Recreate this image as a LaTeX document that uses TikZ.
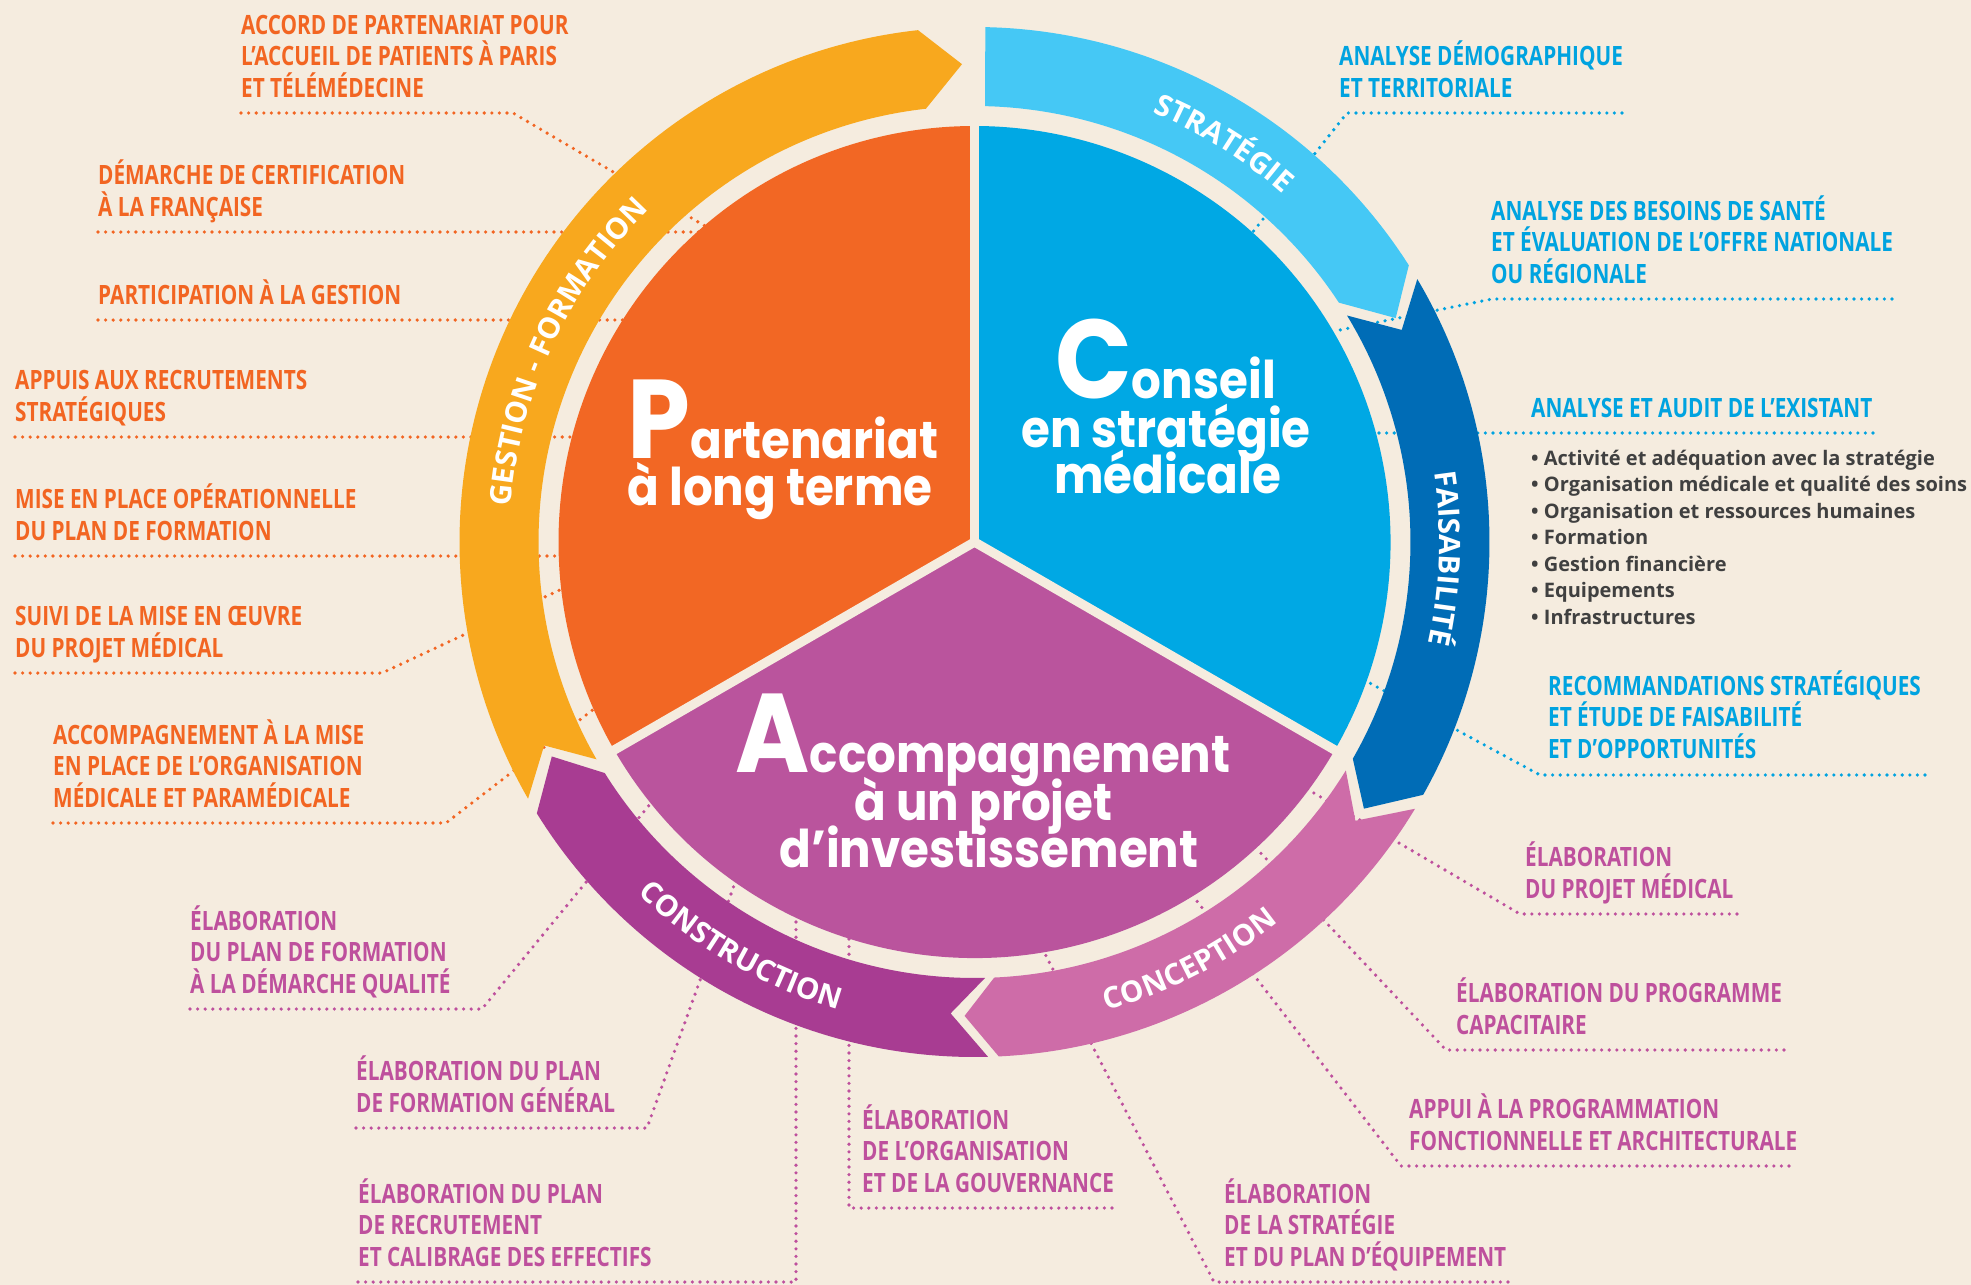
\documentclass[tikz,border=0pt]{standalone}
\usepackage{fontspec}
\setmainfont{Open Sans}
\newfontfamily\lblfont{Open Sans}[FakeStretch=0.78]
\newfontfamily\ringfam{Open Sans}
\newfontfamily\titlefam{Poppins}[FakeStretch=0.9]
\usetikzlibrary{decorations.text}
\definecolor{bgc}{HTML}{F5ECDF}
\definecolor{secO}{HTML}{F26724}
\definecolor{secB}{HTML}{00A8E4}
\definecolor{secP}{HTML}{BA549D}
\definecolor{ringO}{HTML}{F8A81E}
\definecolor{ringLB}{HTML}{45C8F5}
\definecolor{ringDB}{HTML}{006CB6}
\definecolor{ringPk}{HTML}{CE6CA8}
\definecolor{ringPu}{HTML}{A83C92}
\definecolor{txtO}{HTML}{F26522}
\definecolor{txtB}{HTML}{00A3E0}
\definecolor{txtP}{HTML}{BE509D}
\definecolor{txtG}{HTML}{404040}
\newcommand\bigini[1]{{\fontsize{112}{112}\selectfont #1}}
\tikzset{
  lbl/.style={anchor=south west, inner sep=0pt, align=left,
    font=\lblfont\bfseries\fontsize{26.6}{31.6}\selectfont, execute at end node=\strut},
  lblO/.style={lbl, text=txtO},
  lblB/.style={lbl, text=txtB},
  lblP/.style={lbl, text=txtP},
  lead/.style={line width=3.6pt, line cap=round, dash pattern=on 0pt off 7.6pt},
  leadO/.style={lead, draw=txtO},
  leadB/.style={lead, draw=txtB},
  leadP/.style={lead, draw=txtP},
  ttl/.style={anchor=base, inner sep=0pt, text=white,
    font=\titlefam\bfseries\fontsize{52}{52}\selectfont},
  ringtext/.style={decorate, decoration={text along path, text align=center,
    text color=white, text={|\ringfam\bfseries\fontsize{29.5}{30}\selectfont|#1}}},
  sepline/.style={draw=bgc, line width=9.3pt}
}
\begin{document}
\begin{tikzpicture}[x=1pt,y=-1pt]
\useasboundingbox (0,0) rectangle (1971,1285);
\fill[bgc] (0,0) rectangle (1971,1285);

% ---------- leader coordinates ----------
\coordinate (uL1) at (241,113);  \coordinate (kL1) at (513,113);  \coordinate (eL1) at (705,226);
\coordinate (uL2) at (98,232);   \coordinate (eL2) at (700,232);
\coordinate (uL3) at (98,320);   \coordinate (eL3) at (625,320);
\coordinate (uL4) at (15,437);   \coordinate (eL4) at (574,437);
\coordinate (uL5) at (15,556);   \coordinate (eL5) at (561,556);
\coordinate (uL6) at (15,673);   \coordinate (kL6) at (382,673);  \coordinate (eL6) at (564,588);
\coordinate (uL7) at (53,823);   \coordinate (kL7) at (446,823);  \coordinate (eL7) at (599,705);

\coordinate (uR1) at (1622,113); \coordinate (kR1) at (1347,113); \coordinate (eR1) at (1252,233);
\coordinate (uR2) at (1892,299); \coordinate (kR2) at (1492,299); \coordinate (eR2) at (1335,331);
\coordinate (uR3) at (1873,433); \coordinate (eR3) at (1374,433);
\coordinate (uR4) at (1925,775); \coordinate (kR4) at (1540,775); \coordinate (eR4) at (1366,681);

\coordinate (uB1) at (1737,914);  \coordinate (kB1) at (1520,914);  \coordinate (eB1) at (1307,789);
\coordinate (uB2) at (1784,1050); \coordinate (kB2) at (1446,1050); \coordinate (eB2) at (1256,848);
\coordinate (uB3) at (1789,1166); \coordinate (kB3) at (1401,1166); \coordinate (eB3) at (1193,896);
\coordinate (uB4) at (1508,1282); \coordinate (kB4) at (1214,1282); \coordinate (eB4) at (1043,950);
\coordinate (uB5) at (1112,1208); \coordinate (kB5) at (849,1208);  \coordinate (eB5) at (849,937);
\coordinate (uB6) at (358,1282);  \coordinate (kB6) at (796,1282);  \coordinate (eB6) at (796,917);
\coordinate (uB7) at (356,1128);  \coordinate (kB7) at (647,1128);  \coordinate (eB7) at (736,880);
\coordinate (uB8) at (190,1009);  \coordinate (kB8) at (482,1009);  \coordinate (eB8) at (651,803);

\draw[leadO] (uL1) -- (kL1) -- (eL1);
\draw[leadO] (uL2) -- (eL2);
\draw[leadO] (uL3) -- (eL3);
\draw[leadO] (uL4) -- (eL4);
\draw[leadO] (uL5) -- (eL5);
\draw[leadO] (uL6) -- (kL6) -- (eL6);
\draw[leadO] (uL7) -- (kL7) -- (eL7);
\draw[leadB] (uR1) -- (kR1) -- (eR1);
\draw[leadB] (uR2) -- (kR2) -- (eR2);
\draw[leadB] (uR3) -- (eR3);
\draw[leadB] (uR4) -- (kR4) -- (eR4);
\draw[leadP] (uB1) -- (kB1) -- (eB1);
\draw[leadP] (uB2) -- (kB2) -- (eB2);
\draw[leadP] (uB3) -- (kB3) -- (eB3);
\draw[leadP] (uB4) -- (kB4) -- (eB4);
\draw[leadP] (uB5) -- (kB5) -- (eB5);
\draw[leadP] (uB6) -- (kB6) -- (eB6);
\draw[leadP] (uB7) -- (kB7) -- (eB7);
\draw[leadP] (uB8) -- (kB8) -- (eB8);

% ---------- wheel ----------
\begin{scope}[shift={(974.5,542)}, y=1pt]
  % ring segments
  \fill[ringO] (209.9:515) arc[start angle=209.9, end angle=96.3, radius=515]
     -- (91.5:478) -- (96.4:436) arc[start angle=96.4, end angle=209.9, radius=436]
     -- (205.3:476) -- cycle;
  \fill[ringLB] (88.8:515) arc[start angle=88.8, end angle=32.5, radius=515]
     -- (28:477) -- (33.3:436) arc[start angle=33.3, end angle=88.6, radius=436] -- cycle;
  \fill[ringDB] (30.7:515) arc[start angle=30.7, end angle=-29.4, radius=515]
     -- (-34.4:472) -- (-29.8:436) arc[start angle=-29.8, end angle=31.3, radius=436]
     -- (26.4:477) -- cycle;
  \fill[ringPk] (-31.2:515) arc[start angle=-31.2, end angle=-87.3, radius=515]
     -- (-91.2:474) -- (-87.4:436) arc[start angle=-87.4, end angle=-31.6, radius=436]
     -- (-36.2:472) -- cycle;
  \fill[ringPu] (-88.5:515) arc[start angle=-88.5, end angle=-148.2, radius=515]
     -- (-153.1:474) -- (-148.0:436) arc[start angle=-148.0, end angle=-88.6, radius=436]
     -- (-92.9:472) -- cycle;
  % disc sectors
  \fill[secO] (0,0) -- (90:416) arc[start angle=90, end angle=210, radius=416] -- cycle;
  \fill[secB] (0,0) -- (-30:416) arc[start angle=-30, end angle=90, radius=416] -- cycle;
  \fill[secP] (0,0) -- (210:416) arc[start angle=210, end angle=330, radius=416] -- cycle;
  \draw[sepline] (0,0) -- (90:420);
  \draw[sepline] (0,0) -- (210:420);
  \draw[sepline] (0,0) -- (-30:420);
  % ring texts
  \path[ringtext={GESTION - FORMATION}] (185:465) arc[start angle=185, end angle=125, radius=465];
  \path[ringtext={STRATÉGIE}] (78:465) arc[start angle=78, end angle=38, radius=465];
  \path[ringtext={FAISABILITÉ}] (18:465) arc[start angle=18, end angle=-22, radius=465];
  \path[ringtext={CONCEPTION}] (-82.8:487) arc[start angle=-82.8, end angle=-42.8, radius=487];
  \path[ringtext={CONSTRUCTION}] (220:487) arc[start angle=220, end angle=260, radius=487];
\end{scope}

% ---------- titles ----------
\node[ttl] (tP1) at (783,458) {\bigini{P}artenariat};
\node[ttl] (tP2) at (780,505) {à long terme};
\node[ttl] (tC1) at (1165.5,398) {\bigini{C}onseil};
\node[ttl] (tC2) at (1166,447) {en stratégie};
\node[ttl] (tC3) at (1167.5,493) {médicale};
\node[ttl] (tA1) at (983,772) {\bigini{A}ccompagnement};
\node[ttl] (tA2) at (983.5,820) {à un projet};
\node[ttl] (tA3) at (989,867) {d’investissement};

% ---------- labels ----------
\node[lblO] (L1) at (241,107) {ACCORD DE PARTENARIAT POUR\\L’ACCUEIL DE PATIENTS À PARIS\\ET TÉLÉMÉDECINE};
\node[lblO] (L2) at (98,226) {DÉMARCHE DE CERTIFICATION\\À LA FRANÇAISE};
\node[lblO] (L3) at (98,314) {PARTICIPATION À LA GESTION};
\node[lblO] (L4) at (15,431) {APPUIS AUX RECRUTEMENTS\\STRATÉGIQUES};
\node[lblO] (L5) at (15,550) {MISE EN PLACE OPÉRATIONNELLE\\DU PLAN DE FORMATION};
\node[lblO] (L6) at (15,667) {SUIVI DE LA MISE EN ŒUVRE\\DU PROJET MÉDICAL};
\node[lblO] (L7) at (53,817) {ACCOMPAGNEMENT À LA MISE\\EN PLACE DE L’ORGANISATION\\MÉDICALE ET PARAMÉDICALE};

\node[lblB] (R1) at (1339,107) {ANALYSE DÉMOGRAPHIQUE\\ET TERRITORIALE};
\node[lblB] (R2) at (1491,293) {ANALYSE DES BESOINS DE SANTÉ\\ET ÉVALUATION DE L’OFFRE NATIONALE\\OU RÉGIONALE};
\node[lblB] (R3) at (1531,427) {ANALYSE ET AUDIT DE L’EXISTANT};
\node[lblB] (R4) at (1548,768) {RECOMMANDATIONS STRATÉGIQUES\\ET ÉTUDE DE FAISABILITÉ\\ET D’OPPORTUNITÉS};
\node[anchor=south west, inner sep=0pt, align=left, text=txtG,
      font=\bfseries\fontsize{20}{26.5}\selectfont, execute at end node=\strut] (BL) at (1531,632.3)
  {• Activité et adéquation avec la stratégie\\• Organisation médicale et qualité des soins\\• Organisation et ressources humaines\\• Formation\\• Gestion financière\\• Equipements\\• Infrastructures};

\node[lblP] (B1) at (1525,908) {ÉLABORATION\\DU PROJET MÉDICAL};
\node[lblP] (B2) at (1456,1044) {ÉLABORATION DU PROGRAMME\\CAPACITAIRE};
\node[lblP] (B3) at (1409,1160) {APPUI À LA PROGRAMMATION\\FONCTIONNELLE ET ARCHITECTURALE};
\node[lblP] (B4) at (1224,1276) {ÉLABORATION\\DE LA STRATÉGIE\\ET DU PLAN D’ÉQUIPEMENT};
\node[lblP] (B5) at (862,1202) {ÉLABORATION\\DE L’ORGANISATION\\ET DE LA GOUVERNANCE};
\node[lblP] (B6) at (358,1276) {ÉLABORATION DU PLAN\\DE RECRUTEMENT\\ET CALIBRAGE DES EFFECTIFS};
\node[lblP] (B7) at (356,1122) {ÉLABORATION DU PLAN\\DE FORMATION GÉNÉRAL};
\node[lblP] (B8) at (190,1003) {ÉLABORATION\\DU PLAN DE FORMATION\\À LA DÉMARCHE QUALITÉ};
\end{tikzpicture}
\end{document}
